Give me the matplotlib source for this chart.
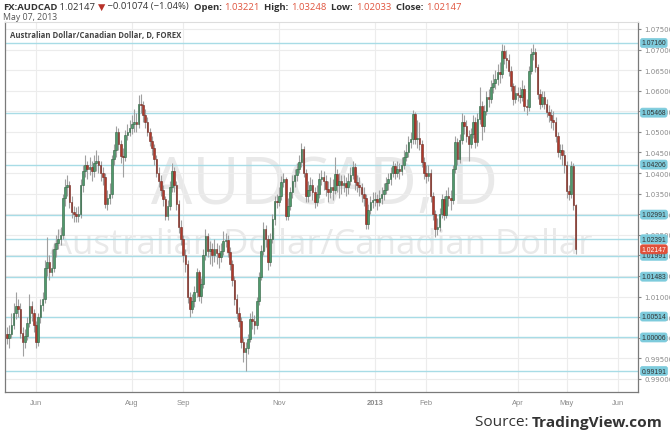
import matplotlib
matplotlib.use("Agg")
import matplotlib.pyplot as plt
from matplotlib.ticker import MultipleLocator, FormatStrFormatter
from matplotlib.patches import Rectangle
import matplotlib.transforms as mtransforms
import pandas as pd

# ---------------- data ----------------
last_date = "2013-05-07"
first_open = 1.0010
closes = [
1.0000, 1.0010, 1.0030, 1.0060, 1.0078, 1.0070, 1.0012, 0.9990, 1.0005, 1.0035,
1.0077, 1.0060, 1.0030, 0.9990, 1.0050, 1.0080, 1.0095, 1.0170, 1.0185, 1.0160,
1.0170, 1.0215, 1.0230, 1.0240, 1.0250, 1.0340, 1.0365, 1.0370, 1.0330, 1.0305,
1.0300, 1.0295, 1.0300, 1.0370, 1.0405, 1.0420, 1.0410, 1.0415, 1.0405, 1.0425,
1.0430, 1.0420, 1.0400, 1.0390, 1.0325, 1.0340, 1.0350, 1.0434, 1.0455, 1.0499,
1.0470, 1.0441, 1.0440, 1.0493, 1.0500, 1.0510, 1.0520, 1.0525, 1.0520, 1.0568,
1.0565, 1.0540, 1.0524, 1.0500, 1.0478, 1.0460, 1.0434, 1.0400, 1.0380, 1.0360,
1.0337, 1.0295, 1.0320, 1.0367, 1.0405, 1.0370, 1.0325, 1.0270, 1.0240, 1.0200,
1.0179, 1.0098, 1.0070, 1.0090, 1.0110, 1.0159, 1.0101, 1.0130, 1.0200, 1.0247,
1.0210, 1.0215, 1.0200, 1.0215, 1.0205, 1.0195, 1.0210, 1.0235, 1.0238, 1.0209,
1.0180, 1.0140, 1.0094, 1.0060, 1.0040, 0.9990, 0.9965, 0.9975, 0.9997, 1.0045,
1.0040, 1.0030, 1.0090, 1.0148, 1.0210, 1.0264, 1.0240, 1.0184, 1.0240, 1.0288,
1.0332, 1.0330, 1.0345, 1.0378, 1.0385, 1.0296, 1.0320, 1.0354, 1.0380, 1.0395,
1.0410, 1.0427, 1.0458, 1.0400, 1.0344, 1.0360, 1.0370, 1.0355, 1.0330, 1.0350,
1.0385, 1.0390, 1.0380, 1.0361, 1.0355, 1.0365, 1.0360, 1.0398, 1.0370, 1.0380,
1.0370, 1.0375, 1.0365, 1.0380, 1.0395, 1.0415, 1.0378, 1.0370, 1.0365, 1.0350,
1.0340, 1.0276, 1.0310, 1.0330, 1.0335, 1.0337, 1.0330, 1.0340, 1.0350, 1.0360,
1.0375, 1.0385, 1.0400, 1.0417, 1.0400, 1.0410, 1.0405, 1.0420, 1.0440, 1.0451,
1.0475, 1.0483, 1.0543, 1.0483, 1.0485, 1.0470, 1.0427, 1.0400, 1.0393, 1.0400,
1.0344, 1.0300, 1.0264, 1.0270, 1.0300, 1.0337, 1.0299, 1.0345, 1.0340, 1.0335,
1.0410, 1.0476, 1.0434, 1.0480, 1.0524, 1.0515, 1.0490, 1.0470, 1.0495, 1.0525,
1.0475, 1.0531, 1.0563, 1.0514, 1.0550, 1.0585, 1.0580, 1.0609, 1.0620, 1.0628,
1.0646, 1.0640, 1.0697, 1.0680, 1.0675, 1.0648, 1.0611, 1.0580, 1.0595, 1.0590,
1.0585, 1.0605, 1.0563, 1.0560, 1.0648, 1.0689, 1.0695, 1.0658, 1.0592, 1.0568,
1.0585, 1.0568, 1.0549, 1.0540, 1.0530, 1.0524, 1.0490, 1.0451, 1.0455, 1.0445,
1.0420, 1.0356, 1.0350, 1.0417, 1.03221, 1.02147]
highs = [
1.0025, 1.0030, 1.0060, 1.0085, 1.0110, 1.0095, 1.0085, 1.0025, 1.0020, 1.0050,
1.0105, 1.0090, 1.0070, 1.0040, 1.0060, 1.0095, 1.0110, 1.0190, 1.0245, 1.0200,
1.0215, 1.0230, 1.0250, 1.0265, 1.0270, 1.0350, 1.0385, 1.0395, 1.0380, 1.0345,
1.0320, 1.0318, 1.0320, 1.0385, 1.0420, 1.0445, 1.0430, 1.0440, 1.0430, 1.0445,
1.0455, 1.0445, 1.0430, 1.0415, 1.0400, 1.0360, 1.0375, 1.0445, 1.0470, 1.0515,
1.0510, 1.0480, 1.0460, 1.0505, 1.0520, 1.0530, 1.0540, 1.0555, 1.0545, 1.0590,
1.0592, 1.0575, 1.0555, 1.0535, 1.0510, 1.0490, 1.0470, 1.0445, 1.0415, 1.0395,
1.0370, 1.0345, 1.0335, 1.0380, 1.0425, 1.0415, 1.0380, 1.0335, 1.0285, 1.0250,
1.0215, 1.0190, 1.0110, 1.0105, 1.0125, 1.0170, 1.0165, 1.0145, 1.0215, 1.0265,
1.0255, 1.0235, 1.0230, 1.0240, 1.0230, 1.0225, 1.0230, 1.0260, 1.0255, 1.0250,
1.0220, 1.0190, 1.0150, 1.0105, 1.0075, 1.0050, 1.0000, 0.9990, 1.0010, 1.0060,
1.0065, 1.0055, 1.0100, 1.0160, 1.0225, 1.0280, 1.0275, 1.0250, 1.0255, 1.0300,
1.0345, 1.0350, 1.0365, 1.0392, 1.0400, 1.0390, 1.0340, 1.0365, 1.0395, 1.0410,
1.0425, 1.0445, 1.0472, 1.0465, 1.0410, 1.0380, 1.0390, 1.0385, 1.0365, 1.0370,
1.0400, 1.0408, 1.0405, 1.0395, 1.0380, 1.0390, 1.0385, 1.0440, 1.0410, 1.0400,
1.0395, 1.0395, 1.0390, 1.0400, 1.0415, 1.0430, 1.0425, 1.0395, 1.0390, 1.0375,
1.0365, 1.0350, 1.0325, 1.0345, 1.0355, 1.0355, 1.0350, 1.0360, 1.0365, 1.0375,
1.0390, 1.0400, 1.0415, 1.0430, 1.0425, 1.0430, 1.0425, 1.0440, 1.0455, 1.0470,
1.0490, 1.0500, 1.0552, 1.0548, 1.0530, 1.0525, 1.0480, 1.0440, 1.0420, 1.0420,
1.0410, 1.0355, 1.0310, 1.0290, 1.0315, 1.0350, 1.0345, 1.0360, 1.0365, 1.0360,
1.0420, 1.0490, 1.0485, 1.0495, 1.0545, 1.0540, 1.0530, 1.0505, 1.0510, 1.0540,
1.0535, 1.0545, 1.0610, 1.0575, 1.0565, 1.0600, 1.0605, 1.0625, 1.0640, 1.0650,
1.0665, 1.0670, 1.0714, 1.0712, 1.0700, 1.0690, 1.0660, 1.0620, 1.0615, 1.0610,
1.0610, 1.0625, 1.0615, 1.0580, 1.0660, 1.0705, 1.0714, 1.0705, 1.0665, 1.0605,
1.0600, 1.0600, 1.0580, 1.0565, 1.0555, 1.0550, 1.0535, 1.0500, 1.0470, 1.0470,
1.0455, 1.0430, 1.0370, 1.0430, 1.0425, 1.03248]
lows = [
0.9985, 0.9975, 1.0000, 1.0020, 1.0045, 1.0050, 1.0000, 0.9955, 0.9975, 0.9995,
1.0025, 1.0040, 1.0015, 0.9975, 0.9980, 1.0035, 1.0065, 1.0085, 1.0150, 1.0140,
1.0150, 1.0160, 1.0195, 1.0215, 1.0225, 1.0240, 1.0320, 1.0345, 1.0315, 1.0290,
1.0280, 1.0280, 1.0282, 1.0290, 1.0355, 1.0390, 1.0385, 1.0395, 1.0380, 1.0390,
1.0405, 1.0400, 1.0380, 1.0370, 1.0315, 1.0310, 1.0325, 1.0340, 1.0420, 1.0440,
1.0455, 1.0425, 1.0390, 1.0430, 1.0480, 1.0490, 1.0495, 1.0500, 1.0500, 1.0510,
1.0545, 1.0525, 1.0510, 1.0490, 1.0465, 1.0445, 1.0420, 1.0390, 1.0365, 1.0345,
1.0320, 1.0285, 1.0285, 1.0310, 1.0355, 1.0355, 1.0310, 1.0255, 1.0225, 1.0185,
1.0160, 1.0085, 1.0050, 1.0060, 1.0075, 1.0100, 1.0090, 1.0085, 1.0120, 1.0190,
1.0195, 1.0180, 1.0175, 1.0185, 1.0180, 1.0170, 1.0185, 1.0200, 1.0220, 1.0195,
1.0165, 1.0125, 1.0080, 1.0045, 1.0025, 0.9975, 0.9940, 0.9920, 0.9960, 0.9990,
1.0020, 1.0010, 1.0020, 1.0080, 1.0140, 1.0200, 1.0220, 1.0165, 1.0175, 1.0230,
1.0275, 1.0315, 1.0320, 1.0335, 1.0365, 1.0285, 1.0285, 1.0310, 1.0340, 1.0365,
1.0380, 1.0400, 1.0415, 1.0390, 1.0330, 1.0330, 1.0345, 1.0335, 1.0315, 1.0320,
1.0340, 1.0370, 1.0360, 1.0345, 1.0330, 1.0340, 1.0335, 1.0350, 1.0355, 1.0340,
1.0350, 1.0355, 1.0345, 1.0350, 1.0370, 1.0385, 1.0360, 1.0355, 1.0345, 1.0330,
1.0320, 1.0265, 1.0265, 1.0300, 1.0315, 1.0320, 1.0310, 1.0320, 1.0325, 1.0335,
1.0350, 1.0360, 1.0370, 1.0390, 1.0385, 1.0390, 1.0385, 1.0395, 1.0410, 1.0430,
1.0440, 1.0460, 1.0470, 1.0470, 1.0460, 1.0455, 1.0415, 1.0385, 1.0375, 1.0380,
1.0330, 1.0285, 1.0245, 1.0250, 1.0260, 1.0290, 1.0285, 1.0290, 1.0320, 1.0310,
1.0325, 1.0400, 1.0420, 1.0425, 1.0470, 1.0495, 1.0475, 1.0430, 1.0460, 1.0485,
1.0460, 1.0465, 1.0520, 1.0480, 1.0500, 1.0540, 1.0560, 1.0570, 1.0595, 1.0605,
1.0615, 1.0620, 1.0630, 1.0665, 1.0655, 1.0635, 1.0600, 1.0565, 1.0570, 1.0575,
1.0570, 1.0575, 1.0550, 1.0540, 1.0550, 1.0640, 1.0675, 1.0645, 1.0580, 1.0555,
1.0560, 1.0555, 1.0535, 1.0525, 1.0510, 1.0505, 1.0475, 1.0440, 1.0435, 1.0420,
1.0400, 1.0340, 1.0335, 1.0340, 1.0310, 1.02033]
opens = [first_open] + closes[:-1]

level_lines = [1.07160, 1.05468, 1.04206, 1.02991, 1.02391, 1.01991,
               1.01483, 1.00514, 1.00006, 0.99191]
last_price = 1.02147

month_starts = ["2012-06", "2012-08", "2012-09", "2012-11", "2013-01",
                "2013-02", "2013-04", "2013-05", "2013-06"]
month_labels = ["Jun", "Aug", "Sep", "Nov", "2013", "Feb", "Apr", "May", "Jun"]

header_parts = [
    ("FX:AUDCAD", "#333333", "bold"), (" 1.02147 ", "#333333", "normal"),
    ("\u25BC", "#b8322a", "normal"), (" \u22120.01074 (\u22121.04%)", "#333333", "normal"),
    ("  Open: ", "#333333", "bold"), ("1.03221", "#e0553f", "normal"),
    ("  High: ", "#333333", "bold"), ("1.03248", "#e0553f", "normal"),
    ("  Low: ", "#333333", "bold"), ("1.02033", "#e0553f", "normal"),
    ("  Close: ", "#333333", "bold"), ("1.02147", "#e0553f", "normal"),
]

# ---------------- figure ----------------
W, H = 670, 435
fig = plt.figure(figsize=(W / 100, H / 100), dpi=100)
fig.patch.set_facecolor("white")
L, R, T, B = 5, 638, 23, 393
ax = fig.add_axes([L / W, 1 - B / H, (R - L) / W, (B - T) / H])

n = len(closes)
dates = pd.bdate_range(end=last_date, periods=n)
cal = pd.bdate_range(start=dates[0], end="2013-06-30")
tick_pos = []
for m in month_starts:
    idx = [i for i, d in enumerate(cal) if d.strftime("%Y-%m") == m][0]
    tick_pos.append(idx)

ax.set_xlim(-0.9, 283)
ax.set_ylim(0.98681, 1.0767)

# grid
ax.yaxis.set_major_locator(MultipleLocator(0.005))
ax.yaxis.set_major_formatter(FormatStrFormatter("%.5f"))
ax.set_xticks(tick_pos)
ax.set_xticklabels(month_labels)
for lbl in ax.get_xticklabels():
    lbl.set_family("Liberation Sans")
    if lbl.get_text() == "2013":
        lbl.set_fontweight("bold")
        lbl.set_color("#444444")
for lbl in ax.get_yticklabels():
    lbl.set_family("Liberation Sans")
ax.grid(True, color="#ececec", linewidth=0.8)
ax.set_axisbelow(True)

# level lines
for lv in level_lines:
    ax.axhline(lv, color="#a8dce6", linewidth=1.0, zorder=1)

# candles
bw = 0.72
for i in range(n):
    o, c, h, l = opens[i], closes[i], highs[i], lows[i]
    up = c >= o
    ax.vlines(i, l, h, color="#a0a0a0", linewidth=0.8, zorder=2)
    face = "#4f9a6c" if up else "#b0392b"
    edge = "#2f5f40" if up else "#6e2a22"
    ax.add_patch(Rectangle((i - bw / 2, min(o, c)), bw, max(abs(c - o), 0.00012),
                           facecolor=face, edgecolor=edge, linewidth=0.4, zorder=3))

# watermark
ax.text(0.505, 0.556, "AUDCAD, D", transform=ax.transAxes, ha="center", va="center",
        fontsize=47, color="#e9e9e9", family="Open Sans", zorder=0.5)
ax.text(0.5, 0.40, "Australian Dollar/Canadian Dollar", transform=ax.transAxes,
        ha="center", va="center", fontsize=25, color="#e9e9e9", family="Open Sans",
        zorder=0.5)

# title in pane
ax.text(0.008, 0.967, "Australian Dollar/Canadian Dollar, D, FOREX", transform=ax.transAxes,
        ha="left", va="center", fontsize=5.6, fontweight="bold", color="#444444",
        family="Open Sans")

# axes styling
ax.yaxis.tick_right()
ax.tick_params(axis="y", labelsize=5.0, labelcolor="#8a8a8a", length=2.5, color="#888888",
               pad=2)
ax.tick_params(axis="x", labelsize=5.4, labelcolor="#8a8a8a", length=0, pad=5)
for s in ["left", "right", "bottom"]:
    ax.spines[s].set_color("#7a7a7a")
    ax.spines[s].set_linewidth(0.9)
ax.spines["top"].set_color("#dddddd")
ax.spines["top"].set_linewidth(0.8)

# price labels on right axis
trans = mtransforms.blended_transform_factory(ax.transAxes, ax.transData)
box_style = "round,pad=0.15,rounding_size=0.3"
for lv in level_lines:
    ax.text(1.0055, lv, f"{lv:.5f}", transform=trans, ha="left", va="center", fontsize=4.9,
            color="#333333", clip_on=False, zorder=6, family="Liberation Sans",
            bbox=dict(boxstyle=box_style, fc="#7dcbdc", ec="#7dcbdc", lw=0.5))
ax.text(1.0055, last_price, f"{last_price:.5f}", transform=trans, ha="left", va="center",
        fontsize=4.9, color="white", clip_on=False, zorder=8, family="Liberation Sans",
        bbox=dict(boxstyle=box_style, fc="#e0503a", ec="#e0503a", lw=0.5))

# header
fig.canvas.draw()
renderer = fig.canvas.get_renderer()
x = 3 / W
for txt, col, wt in header_parts:
    t = fig.text(x, 1 - 7 / H, txt, ha="left", va="center", fontsize=6.8, color=col,
                 fontweight=wt, family=["Open Sans", "DejaVu Sans"])
    bb = t.get_window_extent(renderer=renderer)
    x += bb.width / W
fig.text(3 / W, 1 - 17 / H, "May 07, 2013", ha="left", va="center", fontsize=6.3,
         color="#555555", family="Open Sans")

# source
t2 = fig.text(663 / W, 1 - 423 / H, "TradingView.com", ha="right", va="center",
              fontsize=11.1, fontweight="bold", color="#333333", family="Open Sans")
bb2 = t2.get_window_extent(renderer=renderer)
fig.text(bb2.x0 / W, 1 - 423 / H, "Source: ", ha="right", va="center", fontsize=11.1,
         color="#333333", family="Open Sans")

fig.savefig("out.png", dpi=100, facecolor="white")
